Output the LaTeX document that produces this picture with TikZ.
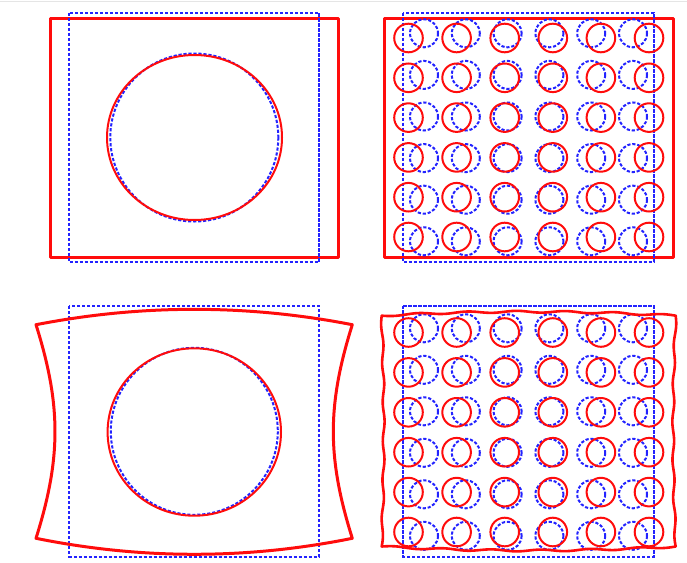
\documentclass[tikz,border=0pt]{standalone}
\definecolor{myred}{RGB}{255,12,12}
\definecolor{myblue}{RGB}{35,35,255}
\tikzset{
  redrect/.style={draw=myred, line width=3pt, line join=round},
  redwavy/.style={draw=myred, line width=2.6pt, line join=round},
  redcirc/.style={draw=myred, line width=2pt},
  bluedash/.style={draw=myblue, line width=2pt, dash pattern=on 3.2pt off 1.8pt},
}
\begin{document}
\begin{tikzpicture}[x=1pt,y=-1pt]
\useasboundingbox (0,0) rectangle (687,562);
\draw[black!10, line width=1pt] (0,1.7) -- (687,1.7);

% ---------- panel 1 (top left) ----------
\draw[redrect] (50,18) rectangle (338,257);
\draw[bluedash] (69,12.5) rectangle (319,262);
\draw[bluedash] (194.3,137.5) circle[radius=84];
\draw[redcirc] (194.5,137.5) ellipse[x radius=87.5, y radius=82.5];

% ---------- panel 2 (top right) ----------
\draw[redrect] (384,18) rectangle (673,257);
\draw[bluedash] (403,12.5) rectangle (654,262);
\foreach \i in {0,...,5}{
  \foreach \j in {0,...,5}{
    \draw[bluedash] ({424+41.8*\i},{33.3+41.6*\j}) circle[radius=14];
    \draw[redcirc] ({408.5+48.1*\i},{38+39.8*\j}) circle[radius=14.3];
  }
}

% ---------- panel 3 (bottom left) ----------
\draw[bluedash] (69,306) rectangle (319,556.5);
\draw[bluedash] (194.3,431.3) circle[radius=83.5];
\draw[redcirc] (194.3,432) ellipse[x radius=86.7, y radius=83.7];
\draw[redrect] (36,324.7) .. controls (141.4,304.2) and (246.9,304.2) .. (352.3,324.7)
  .. controls (327,405) and (327,458) .. (352.3,538.3)
  .. controls (246.9,559.6) and (141.4,559.6) .. (36,538.3)
  .. controls (61.3,458) and (61.3,405) .. (36,324.7) -- cycle;

% ---------- panel 4 (bottom right) ----------
\draw[bluedash] (403.3,305.7) -- (653.7,305.7) -- (653.7,556.7) -- (403.3,556.7) -- cycle;
\foreach \i in {0,...,5}{
  \foreach \j in {0,...,5}{
    \draw[bluedash] ({424+41.8*\i},{328.3+41.5*\j}) circle[radius=14];
    \draw[redcirc] ({408.5+48.1*\i},{332.5+39.9*\j}) circle[radius=14.3];
  }
}
\draw[redwavy]
  plot[smooth, domain=0:294, samples=90]
    ({381.7+\x}, {315.7 - 4*(1-((\x-147)/147)^2) + 0.9*sin(\x*7.3469)})
  -- plot[smooth, domain=0:230.8, samples=80]
    ({675.7 - 2.5*(1-((\x-115.4)/115.4)^2) + 0.9*sin(\x*9.358)}, {315.7+\x})
  -- plot[smooth, domain=0:294, samples=90]
    ({675.7-\x}, {546.5 + 4*(1-((\x-147)/147)^2) + 0.9*sin(\x*7.3469)})
  -- plot[smooth, domain=0:230.8, samples=80]
    ({381.7 + 2*(1-((\x-115.4)/115.4)^2) + 0.9*sin(\x*9.358)}, {546.5-\x})
  -- cycle;
\end{tikzpicture}
\end{document}
